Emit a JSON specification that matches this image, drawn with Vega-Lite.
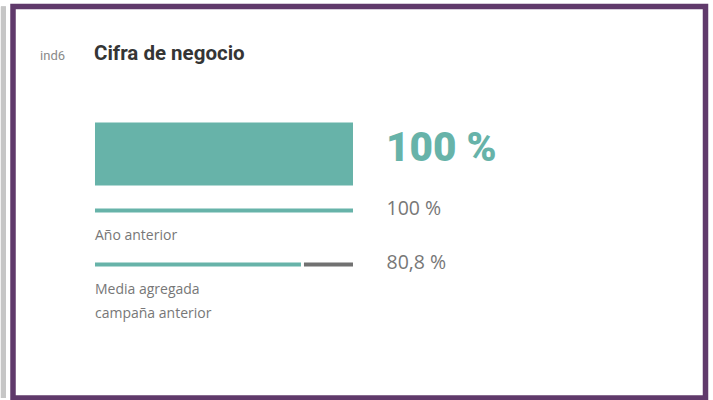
{
  "$schema": "https://vega.github.io/schema/vega-lite/v6.json",
  "width": 692.5,
  "height": 391.5,
  "autosize": {"type": "none"},
  "padding": {"left": 13, "top": 6.5, "right": 7.5, "bottom": 2},
  "background": "white",
  "config": {"view": {"stroke": "#603a6b", "strokeWidth": 5.5}},
  "data": {
    "values": [
      {"serie": "actual", "etiqueta": "", "valor": 100, "texto": "100 %"},
      {"serie": "anterior", "etiqueta": "Año anterior", "valor": 100, "texto": "100 %"},
      {"serie": "media", "etiqueta": ["Media agregada", "campaña anterior"], "valor": 80.8, "texto": "80,8 %"}
    ]
  },
  "layer": [
    {
      "transform": [{"filter": "datum.serie === 'actual'"}],
      "mark": {"type": "bar", "height": 63, "color": "#67b3a9", "yOffset": -2.5},
      "encoding": {
        "y": {"field": "serie", "type": "nominal", "scale": {"type": "point", "domain": ["arriba", "titulo", "actual", "anterior", "media", "abajo1", "abajo2"], "padding": 0.625, "align": 0.622}, "axis": null},
        "x": {"field": "valor", "type": "quantitative", "scale": {"domain": [-31.78, 236.63], "nice": false, "zero": false}, "axis": null},
        "x2": {"datum": 0}
      }
    },
    {
      "mark": {"type": "rule", "stroke": "#c6c6c6", "strokeWidth": 5},
      "encoding": {
        "x": {"datum": -35.5, "type": "quantitative"}
      }
    },
    {
      "transform": [{"filter": "datum.serie === 'anterior'"}],
      "mark": {"type": "bar", "height": 4, "color": "#67b3a9"},
      "encoding": {
        "y": {"field": "serie", "type": "nominal"},
        "x": {"field": "valor", "type": "quantitative"},
        "x2": {"datum": 0}
      }
    },
    {
      "transform": [{"filter": "datum.serie === 'media'"}],
      "mark": {"type": "bar", "height": 4, "color": "#67b3a9", "xOffset": -2.5},
      "encoding": {
        "y": {"field": "serie", "type": "nominal"},
        "x": {"field": "valor", "type": "quantitative"},
        "x2": {"datum": 0}
      }
    },
    {
      "transform": [{"filter": "datum.serie === 'media'"}],
      "mark": {"type": "bar", "height": 4, "color": "#717171", "xOffset": 0.5},
      "encoding": {
        "y": {"field": "serie", "type": "nominal"},
        "x": {"field": "valor", "type": "quantitative"},
        "x2": {"datum": 100}
      }
    },
    {
      "transform": [{"filter": "datum.serie === 'actual'"}],
      "mark": {"type": "text", "align": "left", "baseline": "alphabetic", "dx": 33, "dy": 5, "font": "Roboto", "fontWeight": 900, "fontSize": 40.5, "color": "#67b3a9"},
      "encoding": {
        "y": {"field": "serie", "type": "nominal"},
        "x": {"datum": 100, "type": "quantitative"},
        "text": {"field": "texto"}
      }
    },
    {
      "transform": [{"filter": "datum.serie !== 'actual'"}],
      "mark": {"type": "text", "align": "left", "baseline": "alphabetic", "dx": 33.5, "dy": 4.5, "font": "Open Sans", "fontSize": 19.5, "color": "#777777"},
      "encoding": {
        "y": {"field": "serie", "type": "nominal"},
        "x": {"datum": 100, "type": "quantitative"},
        "text": {"field": "texto"}
      }
    },
    {
      "transform": [{"filter": "datum.serie !== 'actual'"}],
      "mark": {"type": "text", "align": "left", "baseline": "alphabetic", "dy": 30, "lineHeight": 24, "font": "Open Sans", "fontSize": 14, "color": "#777777"},
      "encoding": {
        "y": {"field": "serie", "type": "nominal"},
        "x": {"datum": 0, "type": "quantitative"},
        "text": {"field": "etiqueta"}
      }
    },
    {
      "data": {"values": [{"serie": "titulo", "codigo": "ind6", "titulo": "Cifra de negocio"}]},
      "mark": {"type": "text", "align": "left", "baseline": "alphabetic", "dx": -1, "dy": -42, "font": "Roboto", "fontWeight": "bold", "fontSize": 20.5, "color": "#353535"},
      "encoding": {
        "y": {"field": "serie", "type": "nominal"},
        "x": {"datum": 0, "type": "quantitative"},
        "text": {"field": "titulo"}
      }
    },
    {
      "data": {"values": [{"serie": "titulo", "codigo": "ind6", "titulo": "Cifra de negocio"}]},
      "mark": {"type": "text", "align": "left", "baseline": "alphabetic", "dy": -42, "font": "Roboto", "fontSize": 13, "color": "#8a8a8a"},
      "encoding": {
        "y": {"field": "serie", "type": "nominal"},
        "x": {"datum": -21.3, "type": "quantitative"},
        "text": {"field": "codigo"}
      }
    }
  ]
}
